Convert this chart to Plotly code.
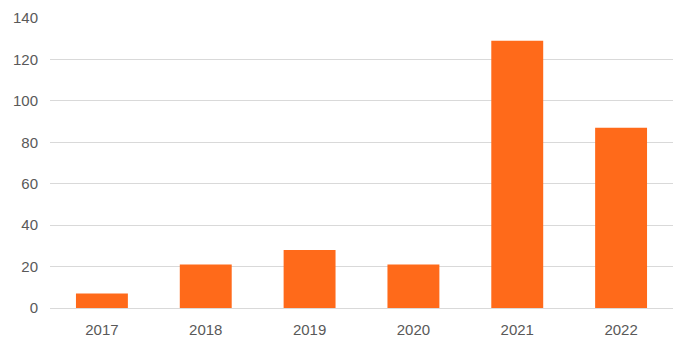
import plotly.graph_objects as go

years = ["2017", "2018", "2019", "2020", "2021", "2022"]
values = [7, 21, 28, 21, 129, 87]
y_ticks = [0, 20, 40, 60, 80, 100, 120, 140]

fig = go.Figure(go.Bar(x=years, y=values, marker=dict(color="#FF6A1A", line=dict(width=0))))
fig.update_layout(
    width=690, height=352,
    margin=dict(l=50, r=17, t=18, b=44),
    paper_bgcolor="white", plot_bgcolor="white",
    bargap=0.5,
    font=dict(family="Liberation Sans, Arial, sans-serif", size=15, color="#595959"),
    showlegend=False,
)
fig.update_xaxes(showgrid=False, showline=True, linecolor="#D9D9D9", linewidth=1, ticks="",
                 automargin=False, ticklabelstandoff=8, tickfont=dict(size=15, color="#595959"))
fig.update_yaxes(range=[0, 140], tickvals=y_ticks, showgrid=True, gridcolor="#D9D9D9", gridwidth=1,
                 automargin=False, zeroline=False, showline=False, ticks="", ticklabelstandoff=11,
                 tickfont=dict(size=15, color="#595959"))
fig.write_html("out.html")
